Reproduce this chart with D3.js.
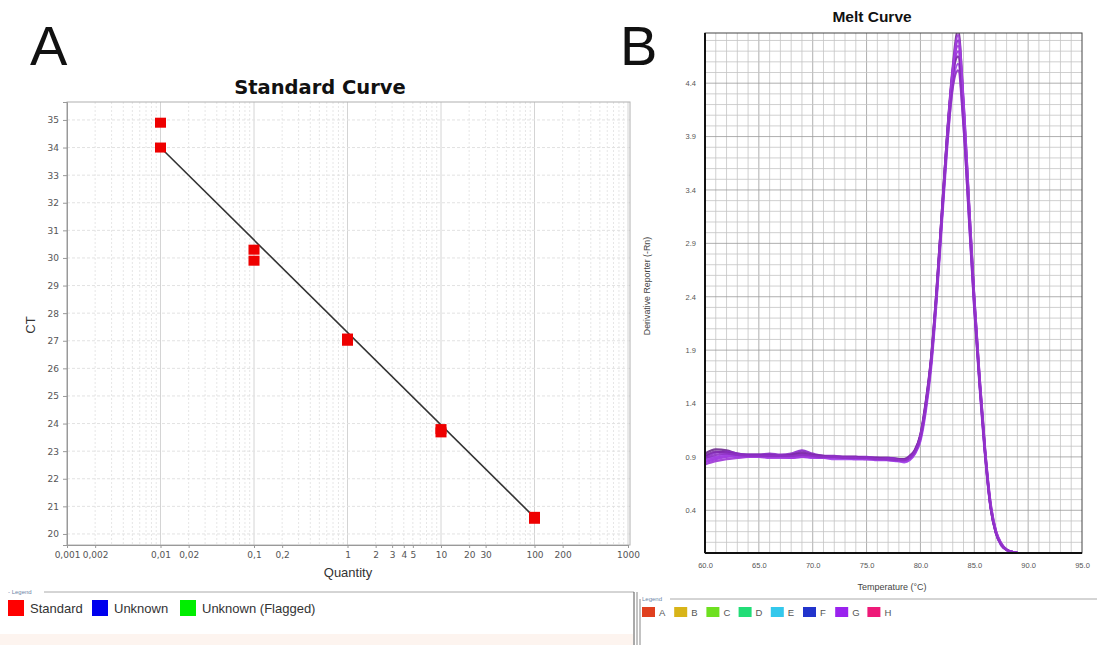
<!DOCTYPE html>
<html>
<head>
<meta charset="utf-8">
<script src="https://cdn.jsdelivr.net/npm/d3@7"></script>
<style>
  body { margin: 0; background: #fff; }
  svg { display: block; font-family: 'Liberation Sans', Arial, sans-serif; }
</style>
</head>
<body>
<div id="chart"></div>
<script>
// ---- Panel A: standard curve data ----
const stdQuantity = [0.01, 0.01, 0.1, 0.1, 1, 1, 10, 10, 100, 100];
const stdCt = [34.9, 34.0, 30.3, 29.9, 27.0, 27.08, 23.68, 23.8, 20.55, 20.62];
const fitQuantity = [0.01, 100];
const fitCt = [34.0, 20.6];
const xTickValuesA = [0.001, 0.002, 0.01, 0.02, 0.1, 0.2, 1, 2, 3, 4, 5, 10, 20, 30, 100, 200, 1000];
const xTickLabelsA = ['0,001', '0,002', '0,01', '0,02', '0,1', '0,2', '1', '2', '3', '4', '5', '10', '20', '30', '100', '200', '1000'];
const yTicksA = [20, 21, 22, 23, 24, 25, 26, 27, 28, 29, 30, 31, 32, 33, 34, 35];
const legendA = ['Standard', 'Unknown', 'Unknown (Flagged)'];
const legendAColors = ['#ff0000', '#0000ee', '#00ee00'];

// ---- Panel B: melt curve data ----
const temps = [60, 61, 62, 63, 64, 65, 66, 67, 68, 69, 70, 71, 72, 73, 74, 75, 76, 77, 78,
  78.5, 79, 79.5, 80, 80.5, 81, 81.5, 82, 82.5, 83, 83.5, 84, 84.5, 85, 85.5, 86, 86.5, 87, 87.5, 88, 88.5, 89];
const wellA = [0.93, 0.97, 0.96, 0.93, 0.92, 0.92, 0.92, 0.91, 0.92, 0.93, 0.91, 0.90, 0.90, 0.90, 0.90, 0.89, 0.89, 0.89, 0.88,
  0.88, 0.90, 0.96, 1.10, 1.40, 1.82, 2.45, 3.20, 3.95, 4.55, 4.90, 4.20, 3.28, 2.38, 1.62, 0.96, 0.46, 0.20, 0.08, 0.03, 0.01, 0.00];
const wellB = [0.85, 0.88, 0.90, 0.91, 0.91, 0.91, 0.91, 0.90, 0.90, 0.91, 0.90, 0.89, 0.89, 0.89, 0.88, 0.88, 0.88, 0.87, 0.86,
  0.86, 0.88, 0.94, 1.07, 1.36, 1.78, 2.40, 3.14, 3.88, 4.45, 4.70, 4.10, 3.20, 2.32, 1.58, 0.93, 0.44, 0.19, 0.08, 0.03, 0.01, 0.00];
const wellC = [0.90, 0.94, 0.95, 0.93, 0.92, 0.92, 0.93, 0.92, 0.93, 0.96, 0.93, 0.91, 0.91, 0.90, 0.90, 0.90, 0.89, 0.89, 0.88,
  0.87, 0.89, 0.95, 1.09, 1.38, 1.80, 2.42, 3.17, 3.92, 4.50, 4.80, 4.18, 3.26, 2.36, 1.60, 0.95, 0.45, 0.20, 0.08, 0.03, 0.01, 0.00];
const wellD = [0.88, 0.90, 0.92, 0.91, 0.90, 0.90, 0.90, 0.90, 0.89, 0.90, 0.89, 0.89, 0.88, 0.88, 0.88, 0.88, 0.87, 0.87, 0.86,
  0.85, 0.87, 0.93, 1.05, 1.33, 1.74, 2.36, 3.10, 3.82, 4.38, 4.58, 4.02, 3.14, 2.28, 1.55, 0.91, 0.43, 0.19, 0.07, 0.03, 0.01, 0.00];
const wellE = [0.83, 0.86, 0.88, 0.89, 0.90, 0.90, 0.90, 0.90, 0.90, 0.91, 0.90, 0.90, 0.89, 0.89, 0.89, 0.89, 0.89, 0.88, 0.87,
  0.87, 0.90, 0.96, 1.10, 1.40, 1.83, 2.46, 3.20, 3.94, 4.52, 4.75, 4.22, 3.30, 2.40, 1.64, 0.98, 0.48, 0.21, 0.09, 0.03, 0.01, 0.00];
const wellF = [0.91, 0.95, 0.94, 0.92, 0.91, 0.91, 0.91, 0.91, 0.92, 0.94, 0.92, 0.91, 0.90, 0.90, 0.90, 0.89, 0.89, 0.88, 0.88,
  0.88, 0.91, 0.97, 1.11, 1.42, 1.84, 2.47, 3.21, 3.93, 4.48, 4.65, 4.08, 3.22, 2.34, 1.59, 0.94, 0.44, 0.19, 0.08, 0.03, 0.01, 0.00];
const wellG = [0.86, 0.89, 0.91, 0.90, 0.90, 0.90, 0.89, 0.89, 0.89, 0.90, 0.90, 0.89, 0.89, 0.89, 0.89, 0.88, 0.88, 0.88, 0.87,
  0.86, 0.88, 0.94, 1.08, 1.37, 1.79, 2.41, 3.16, 3.91, 4.52, 4.85, 4.24, 3.30, 2.39, 1.63, 0.97, 0.47, 0.21, 0.09, 0.03, 0.01, 0.00];
const wellH = [0.89, 0.92, 0.93, 0.92, 0.91, 0.91, 0.91, 0.91, 0.91, 0.92, 0.91, 0.90, 0.90, 0.89, 0.89, 0.89, 0.88, 0.88, 0.87,
  0.87, 0.89, 0.95, 1.08, 1.38, 1.80, 2.43, 3.16, 3.86, 4.36, 4.52, 4.00, 3.16, 2.30, 1.57, 0.93, 0.44, 0.19, 0.08, 0.03, 0.01, 0.00];
const wells = [wellA, wellB, wellC, wellD, wellE, wellF, wellG, wellH];
const wellLineColors = ['#6e2a8e', '#9b30e0', '#8a2bc8', '#a040e8', '#9d35d6', '#7d2aa8', '#a23ee0', '#8e30c4'];
const xTicksB = [60, 65, 70, 75, 80, 85, 90, 95];
const yTicksB = [0.4, 0.9, 1.4, 1.9, 2.4, 2.9, 3.4, 3.9, 4.4];
const legendB = ['A', 'B', 'C', 'D', 'E', 'F', 'G', 'H'];
const legendBColors = ['#e0401e', '#d8b418', '#6ee020', '#22dd77', '#33c8ec', '#2234cc', '#9a22ee', '#ee1a78'];

const W = 1097, H = 645;
const svg = d3.select('#chart').append('svg').attr('width', W).attr('height', H);

// ================= Panel A =================
const plotA = { left: 67, right: 630, top: 102, bottom: 545 };
const xA = d3.scaleLog().domain([0.001, 1000]).range([67, 628]);
const yA = d3.scaleLinear().domain([19.6, 35.65]).range([plotA.bottom, plotA.top]);

svg.append('text').attr('x', 30).attr('y', 65).text('A')
  .style('font-size', '56px').style('fill', '#111');

svg.append('text').attr('x', 320).attr('y', 94).attr('text-anchor', 'middle')
  .text('Standard Curve')
  .style('font-family', 'DejaVu Sans, sans-serif').style('font-weight', 'bold')
  .style('font-size', '19.5px').style('fill', '#111');

const gA = svg.append('g');

// minor and major grid (vertical)
gA.append('g').selectAll('line').data(xA.ticks())
  .enter().append('line')
  .attr('x1', d => xA(d)).attr('x2', d => xA(d))
  .attr('y1', plotA.top).attr('y2', plotA.bottom)
  .attr('stroke', d => Math.abs(Math.log10(d) % 1) < 1e-9 ? '#d4d4d4' : '#e6e6e6')
  .attr('stroke-dasharray', d => Math.abs(Math.log10(d) % 1) < 1e-9 ? null : '2,2');

// horizontal grid
gA.append('g').selectAll('line').data(yTicksA)
  .enter().append('line')
  .attr('x1', plotA.left).attr('x2', plotA.right)
  .attr('y1', d => yA(d)).attr('y2', d => yA(d))
  .attr('stroke', '#e2e2e2').attr('stroke-dasharray', '3,2');

// frame
gA.append('rect')
  .attr('x', plotA.left).attr('y', plotA.top)
  .attr('width', plotA.right - plotA.left).attr('height', plotA.bottom - plotA.top)
  .attr('fill', 'none').attr('stroke', '#b0b0b0');

// axes
const yAxisA = gA.append('g').attr('transform', `translate(${plotA.left},0)`)
  .call(d3.axisLeft(yA).tickValues(yTicksA).tickSize(4).tickPadding(4).tickFormat(d3.format('d')));
const xAxisA = gA.append('g').attr('transform', `translate(0,${plotA.bottom})`)
  .call(d3.axisBottom(xA).tickValues(xTickValuesA).tickSize(3).tickPadding(4)
    .tickFormat((d, i) => xTickLabelsA[i]));
[yAxisA, xAxisA].forEach(ax => {
  ax.select('.domain').attr('stroke', '#999');
  ax.selectAll('line').attr('stroke', '#999');
  ax.selectAll('text').style('font-size', '9px').style('fill', '#555')
    .style('font-family', 'DejaVu Sans, sans-serif');
});

// regression line
gA.append('path')
  .datum(fitQuantity.map((q, i) => [q, fitCt[i]]))
  .attr('d', d3.line().x(d => xA(d[0])).y(d => yA(d[1])))
  .attr('stroke', '#333').attr('stroke-width', 1.6).attr('fill', 'none');

// points
gA.append('g').selectAll('rect').data(stdQuantity)
  .enter().append('rect')
  .attr('x', d => xA(d) - 5.5)
  .attr('y', (d, i) => yA(stdCt[i]) - 5)
  .attr('width', 11).attr('height', 10)
  .attr('fill', '#ee0000');

svg.append('text').attr('x', 348).attr('y', 577).attr('text-anchor', 'middle')
  .text('Quantity').style('font-size', '13px').style('fill', '#333');
svg.append('text').attr('transform', 'translate(35,325) rotate(-90)')
  .attr('text-anchor', 'middle').text('CT')
  .style('font-size', '13px').style('fill', '#333');

// legend A
const legA = svg.append('g');
legA.append('line').attr('x1', 44).attr('x2', 634).attr('y1', 592).attr('y2', 592).attr('stroke', '#aaa');
legA.append('text').attr('x', 8).attr('y', 594).text('- Legend')
  .style('font-size', '6px').style('fill', '#6a86a8');
legA.append('rect').attr('x', 0).attr('y', 634).attr('width', 633).attr('height', 11).attr('fill', '#fdf4ef');
legA.append('line').attr('x1', 634).attr('x2', 634).attr('y1', 592).attr('y2', 645).attr('stroke', '#555');
legA.append('line').attr('x1', 637).attr('x2', 637).attr('y1', 592).attr('y2', 645).attr('stroke', '#888');
const legAX = [8, 92, 180];
legendA.forEach((name, i) => {
  legA.append('rect').attr('x', legAX[i]).attr('y', 600).attr('width', 16).attr('height', 16)
    .attr('fill', legendAColors[i]);
  legA.append('text').attr('x', legAX[i] + 22).attr('y', 613).text(name)
    .style('font-size', '13px').style('fill', '#333');
});

// ================= Panel B =================
const plotB = { left: 705, right: 1082, top: 33, bottom: 553 };
const xB = d3.scaleLinear().domain([60, 95]).range([plotB.left, plotB.right]);
const yB = d3.scaleLinear().domain([0, 4.87]).range([plotB.bottom, plotB.top]);

svg.append('text').attr('x', 620).attr('y', 65).text('B')
  .style('font-size', '56px').style('fill', '#111');
svg.append('text').attr('x', 872).attr('y', 22).attr('text-anchor', 'middle')
  .text('Melt Curve').style('font-weight', 'bold').style('font-size', '15.5px').style('fill', '#111');

const gB = svg.append('g');
gB.append('defs').append('clipPath').attr('id', 'clipB')
  .append('rect').attr('x', plotB.left).attr('y', plotB.top)
  .attr('width', plotB.right - plotB.left).attr('height', plotB.bottom - plotB.top);

// grid B: minor every 1 °C and 0.1 units, major on ticks
gB.append('g').selectAll('line').data(d3.range(61, 95, 1))
  .enter().append('line')
  .attr('x1', d => xB(d)).attr('x2', d => xB(d))
  .attr('y1', plotB.top).attr('y2', plotB.bottom)
  .attr('stroke', d => d % 5 === 0 ? '#9a9a9a' : '#c4c4c4').attr('stroke-width', 0.8);
gB.append('g').selectAll('line').data(d3.range(0.1, 4.87, 0.1))
  .enter().append('line')
  .attr('x1', plotB.left).attr('x2', plotB.right)
  .attr('y1', d => yB(d)).attr('y2', d => yB(d))
  .attr('stroke', d => Math.abs(((d - 0.4) / 0.5) - Math.round((d - 0.4) / 0.5)) < 1e-6 ? '#9a9a9a' : '#c4c4c4')
  .attr('stroke-width', 0.8);

// curves
const lineB = d3.line().x((d, i) => xB(temps[i])).y(d => yB(d)).curve(d3.curveMonotoneX);
gB.append('g').attr('clip-path', 'url(#clipB)')
  .selectAll('path').data(wells)
  .enter().append('path')
  .attr('d', lineB)
  .attr('fill', 'none')
  .attr('stroke', (d, i) => wellLineColors[i])
  .attr('stroke-width', 2.3)
  .attr('stroke-opacity', 0.9);

// frame B
gB.append('rect')
  .attr('x', plotB.left).attr('y', plotB.top)
  .attr('width', plotB.right - plotB.left).attr('height', plotB.bottom - plotB.top)
  .attr('fill', 'none').attr('stroke', '#444').attr('stroke-width', 1);
gB.append('line').attr('x1', plotB.left).attr('x2', plotB.left).attr('y1', plotB.top).attr('y2', plotB.bottom)
  .attr('stroke', '#111').attr('stroke-width', 2);
gB.append('line').attr('x1', plotB.left).attr('x2', plotB.right).attr('y1', plotB.bottom).attr('y2', plotB.bottom)
  .attr('stroke', '#111').attr('stroke-width', 2);

const yAxisB = gB.append('g').attr('transform', `translate(${plotB.left},0)`)
  .call(d3.axisLeft(yB).tickValues(yTicksB).tickSize(0).tickPadding(9).tickFormat(d3.format('.1f')));
const xAxisB = gB.append('g').attr('transform', `translate(0,${plotB.bottom})`)
  .call(d3.axisBottom(xB).tickValues(xTicksB).tickSize(0).tickPadding(10).tickFormat(d3.format('.1f')));
[yAxisB, xAxisB].forEach(ax => {
  ax.select('.domain').remove();
  ax.selectAll('text').style('font-size', '7.5px').style('fill', '#555');
});

svg.append('text').attr('x', 892).attr('y', 590).attr('text-anchor', 'middle')
  .text('Temperature (°C)').style('font-size', '9px').style('fill', '#444');
svg.append('text').attr('transform', 'translate(650,286) rotate(-90)')
  .attr('text-anchor', 'middle').text('Derivative Reporter (-Rn)')
  .style('font-size', '8.8px').style('fill', '#444');

// legend B
const legB = svg.append('g');
legB.append('line').attr('x1', 670).attr('x2', 1097).attr('y1', 599).attr('y2', 599).attr('stroke', '#aaa');
legB.append('line').attr('x1', 640).attr('x2', 640).attr('y1', 599).attr('y2', 645).attr('stroke', '#888');
legB.append('text').attr('x', 642).attr('y', 601).text('Legend')
  .style('font-size', '6px').style('fill', '#6a86a8');
legendB.forEach((name, i) => {
  const x0 = 642 + i * 32.2;
  legB.append('rect').attr('x', x0).attr('y', 607).attr('width', 13).attr('height', 10)
    .attr('fill', legendBColors[i]);
  legB.append('text').attr('x', x0 + 17).attr('y', 616).text(name)
    .style('font-size', '9.5px').style('fill', '#555');
});
</script>
</body>
</html>
